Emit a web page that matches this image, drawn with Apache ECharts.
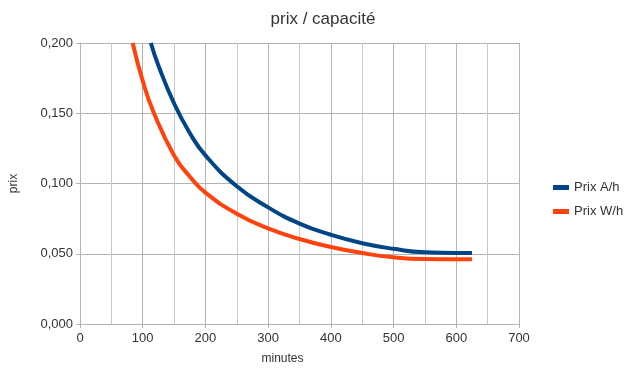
<!DOCTYPE html>
<html>
<head>
<meta charset="utf-8">
<script src="https://cdn.jsdelivr.net/npm/echarts@6/dist/echarts.min.js"></script>
<style>
  html, body { margin: 0; padding: 0; background: #fff; }
  #chart { width: 633px; height: 378px; }
</style>
</head>
<body>
<div id="chart"></div>
<script>
// valeurs
var minutesAh = [113, 125, 150, 175, 200, 250, 300, 350, 400, 450, 500, 550, 600, 625];
var prixAh = [0.200, 0.184, 0.157, 0.136, 0.120, 0.098, 0.083, 0.0715, 0.0635, 0.0575, 0.0535, 0.051, 0.0505, 0.0505];
var minutesWh = [84, 100, 118, 150, 175, 200, 250, 300, 350, 400, 450, 500, 550, 600, 625];
var prixWh = [0.200, 0.173, 0.150, 0.120, 0.105, 0.0935, 0.0785, 0.068, 0.0605, 0.0548, 0.0505, 0.0475, 0.0462, 0.046, 0.046];

function pairs(xs, ys) {
  return xs.map(function (x, i) { return [x, ys[i]]; });
}

var myChart = echarts.init(document.getElementById("chart"));
var font = "Liberation Sans";
var gridColor = "#b3b3b3";

var option = {
  animation: false,
  title: {
    text: "prix / capacité",
    left: 318,
    top: 6,
    textAlign: "center",
    textStyle: { fontFamily: font, fontSize: 17, fontWeight: "normal", color: "#333" }
  },
  legend: {
    orient: "vertical",
    left: 548,
    top: 176,
    icon: "rect",
    itemWidth: 16,
    itemHeight: 5,
    itemGap: 11,
    textStyle: { fontFamily: font, fontSize: 13, color: "#333" },
    data: ["Prix A/h", "Prix W/h"]
  },
  grid: { left: 80, right: 114, top: 43, bottom: 54 },
  xAxis: {
    type: "value",
    min: 0,
    max: 700,
    interval: 100,
    name: "minutes",
    nameLocation: "middle",
    nameGap: 29,
    nameTextStyle: { fontFamily: font, fontSize: 12, color: "#333", padding: [0, 34, 0, 0] },
    axisLine: { show: true, lineStyle: { color: gridColor } },
    axisTick: { show: true, length: 4, lineStyle: { color: gridColor } },
    axisLabel: { fontFamily: font, fontSize: 13, color: "#333", margin: 8 },
    splitLine: { show: true, lineStyle: { color: gridColor } },
    minorTick: { show: false, splitNumber: 2 },
    minorSplitLine: { show: true, lineStyle: { color: "#c8c8c8" } }
  },
  yAxis: {
    type: "value",
    min: 0,
    max: 0.2,
    interval: 0.05,
    name: "prix",
    nameLocation: "middle",
    nameGap: 60,
    nameTextStyle: { fontFamily: font, fontSize: 12, color: "#333" },
    axisLine: { show: true, lineStyle: { color: gridColor } },
    axisTick: { show: true, length: 4, lineStyle: { color: gridColor } },
    axisLabel: {
      fontFamily: font,
      fontSize: 13,
      color: "#333",
      margin: 7,
      formatter: function (v) { return v.toFixed(3).replace(".", ","); }
    },
    splitLine: { show: true, lineStyle: { color: gridColor } }
  },
  series: [
    {
      name: "Prix A/h",
      type: "line",
      smooth: 0.5,
      showSymbol: false,
      color: "#004586",
      lineStyle: { width: 4, color: "#004586" },
      data: pairs(minutesAh, prixAh)
    },
    {
      name: "Prix W/h",
      type: "line",
      smooth: 0.5,
      showSymbol: false,
      color: "#ff420e",
      lineStyle: { width: 4, color: "#ff420e" },
      data: pairs(minutesWh, prixWh)
    }
  ]
};

myChart.setOption(option);
</script>
</body>
</html>
